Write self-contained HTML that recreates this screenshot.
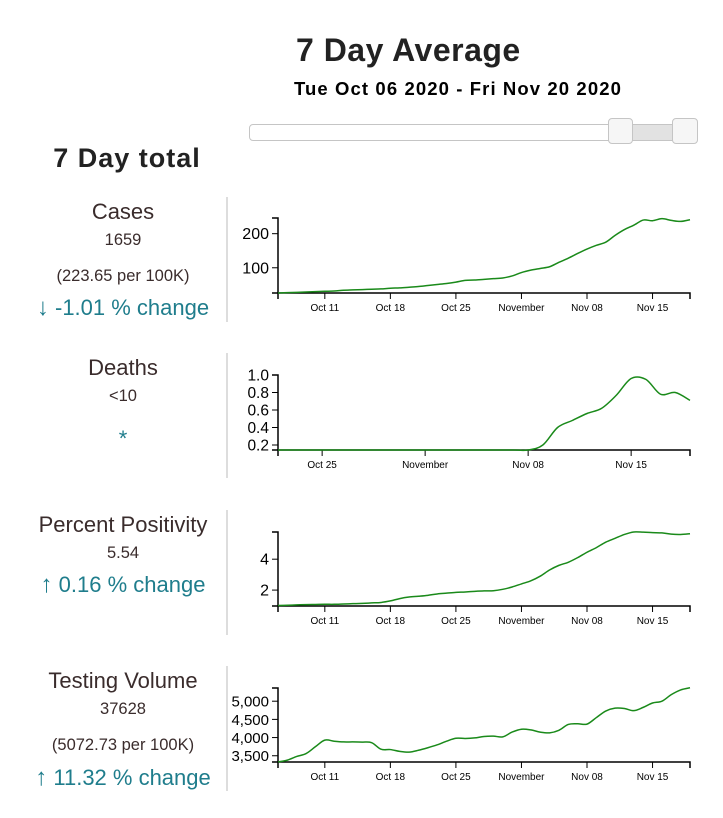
<!DOCTYPE html>
<html><head><meta charset="utf-8">
<style>
body{margin:0;width:723px;height:818px;background:#fff;position:relative;overflow:hidden;font-family:"Liberation Sans",sans-serif;}
.abs{position:absolute;}
.lt{position:absolute;left:0;width:246px;text-align:center;color:#3a2c2c;}
.t{font-size:22px;}
.n{font-size:16.5px;}
.c{font-size:22px;color:#1f7d8c;}
.c b{font-size:24px;}
.div{position:absolute;left:226px;width:2px;background:#ddd;height:125px;}
svg text{font-family:"Liberation Sans",sans-serif;}
</style></head>
<body>
<div class="abs" style="left:296px;top:32px;font-size:32px;letter-spacing:0.5px;font-weight:bold;color:#222;">7 Day Average</div>
<div class="abs" style="left:294px;top:78px;font-size:18.5px;letter-spacing:1.1px;font-weight:bold;color:#000;">Tue Oct 06 2020 - Fri Nov 20 2020</div>
<div class="abs" style="left:249px;top:124px;width:447px;height:15px;border:1px solid #c5c5c5;border-radius:4px;background:#fff;"></div>
<div class="abs" style="left:620px;top:125px;width:64px;height:15px;background:#e2e2e2;"></div>
<div class="abs" style="left:608px;top:118px;width:23px;height:24px;border:1px solid #c5c5c5;border-radius:4px;background:#f6f6f6;"></div>
<div class="abs" style="left:672px;top:118px;width:24px;height:24px;border:1px solid #c5c5c5;border-radius:4px;background:#f6f6f6;"></div>
<div class="abs" style="left:0;width:254px;text-align:center;top:143px;font-size:27px;letter-spacing:1px;font-weight:bold;color:#222;">7 Day total</div>

<div class="lt t" style="top:199px;">Cases</div>
<div class="lt n" style="top:231px;">1659</div>
<div class="lt n" style="top:267px;">(223.65 per 100K)</div>
<div class="lt c" style="top:294px;"><b>&#8595;</b> -1.01 % change</div>
<div class="div" style="top:197px;"></div>

<div class="lt t" style="top:355px;">Deaths</div>
<div class="lt n" style="top:387px;">&lt;10</div>
<div class="lt c" style="top:426px;">*</div>
<div class="div" style="top:353px;"></div>

<div class="lt t" style="top:512px;">Percent Positivity</div>
<div class="lt n" style="top:544px;">5.54</div>
<div class="lt c" style="top:571px;"><b>&#8593;</b> 0.16 % change</div>
<div class="div" style="top:510px;"></div>

<div class="lt t" style="top:668px;">Testing Volume</div>
<div class="lt n" style="top:700px;">37628</div>
<div class="lt n" style="top:736px;">(5072.73 per 100K)</div>
<div class="lt c" style="top:764px;"><b>&#8593;</b> 11.32 % change</div>
<div class="div" style="top:666px;"></div>

<svg id="svg" class="abs" style="left:0;top:0" width="723" height="818"></svg>
<script>
const casesValues=[26,27,28,29,30,31,32,34,35,36,37,38,40,41,43,45,48,51,54,58,63,64,66,68,70,76,86,93,98,103,116,128,142,155,166,175,195,212,225,240,238,244,239,236,241];
const deathsValues=[1/7,1/7,1/7,1/7,1/7,1/7,1/7,1/7,1/7,1/7,1/7,1/7,1/7,1/7,1/7,1/7,1/7,1/7,0.2,0.4,0.48,0.56,0.62,0.77,0.96,0.95,0.78,0.8,0.71];
const positivityValues=[1.0,1.02,1.04,1.06,1.07,1.08,1.08,1.1,1.12,1.14,1.17,1.2,1.3,1.45,1.55,1.6,1.66,1.75,1.8,1.85,1.88,1.92,1.95,1.96,2.05,2.2,2.4,2.6,2.9,3.3,3.6,3.8,4.1,4.45,4.75,5.1,5.35,5.6,5.76,5.75,5.72,5.7,5.62,5.6,5.65];
const testingValues=[3330,3380,3480,3560,3750,3930,3900,3880,3880,3875,3860,3680,3670,3620,3600,3650,3720,3800,3900,3980,3975,3990,4030,4040,4020,4150,4230,4210,4150,4130,4200,4360,4380,4370,4550,4730,4810,4800,4740,4830,4950,5000,5180,5310,5370];
const casesTicks=[100,200];
const deathsTicks=[0.2,0.4,0.6,0.8,1.0];
const positivityTicks=[2,4];
const testingTicks=[3500,4000,4500,5000];
const fullTickLabels=["Oct 11","Oct 18","Oct 25","November","Nov 08","Nov 15"];
const fullTickDays=[5,12,19,26,33,40];
const deathTickLabels=["Oct 25","November","Nov 08","Nov 15"];
const deathTickDays=[3,10,17,24];

const NS="http://www.w3.org/2000/svg";
const svg=document.getElementById('svg');
function mk(tag,attrs,parent){const e=document.createElementNS(NS,tag);for(const k in attrs)e.setAttribute(k,attrs[k]);(parent||svg).appendChild(e);return e;}
function smooth(pts){let d="M"+pts[0][0]+","+pts[0][1];for(let i=0;i<pts.length-1;i++){const p0=pts[Math.max(0,i-1)],p1=pts[i],p2=pts[i+1],p3=pts[Math.min(pts.length-1,i+2)];const c1=[p1[0]+(p2[0]-p0[0])/6,p1[1]+(p2[1]-p0[1])/6],c2=[p2[0]-(p3[0]-p1[0])/6,p2[1]-(p3[1]-p1[1])/6];d+=" C"+c1[0]+","+c1[1]+" "+c2[0]+","+c2[1]+" "+p2[0]+","+p2[1];}return d;}
function chart(name,vals,ymin,ymax,yBottom,yTop,ticks,fmt,tDays,tLabels,fs){
  const x0=278,x1=690,n=vals.length;
  const xs=i=>x0+(x1-x0)*i/(n-1);
  const ys=v=>yBottom-(v-ymin)/(ymax-ymin)*(yBottom-yTop);
  const g=mk('g',{});
  
  
  const ya=mk('path',{d:`M272,${yTop}H${x0}V${yBottom}H272`,fill:'none',stroke:'#000','stroke-width':1.5},g);
  
  
  ticks.forEach(t=>{const y=ys(t);mk('line',{x1:272,x2:x0,y1:y,y2:y,stroke:'#000'},g);
    const tx=mk('text',{x:269,y:y+5.5,'text-anchor':'end','font-size':fs,fill:'#000'},g);tx.textContent=fmt(t);
    
    });
  const xa=mk('path',{d:`M${x0},${yBottom+6}V${yBottom}H${x1}V${yBottom+6}`,fill:'none',stroke:'#000','stroke-width':1.5},g);
  
  
  tDays.forEach((d,i)=>{const x=xs(d);mk('line',{x1:x,x2:x,y1:yBottom,y2:yBottom+6,stroke:'#000'},g);
    const tx=mk('text',{x:x,y:yBottom+18,'text-anchor':'middle','font-size':10,fill:'#000'},g);tx.textContent=tLabels[i];
    
    });
  const ln=mk('path',{d:smooth(vals.map((v,i)=>[xs(i),ys(v)])),fill:'none',stroke:'#1a8a1a','stroke-width':1.5},g);
  
  
}
chart('cases',casesValues,26,246,293,218,casesTicks,v=>v,fullTickDays,fullTickLabels,16);
chart('deaths',deathsValues,1/7,1.0,450,375,deathsTicks,v=>v.toFixed(1),deathTickDays,deathTickLabels,15.5);
chart('positivity',positivityValues,0.97,5.76,606,532,positivityTicks,v=>v,fullTickDays,fullTickLabels,16);
chart('testing',testingValues,3328,5363,762,688,testingTicks,v=>v.toLocaleString('en-US'),fullTickDays,fullTickLabels,15);
</script>
</body></html>
